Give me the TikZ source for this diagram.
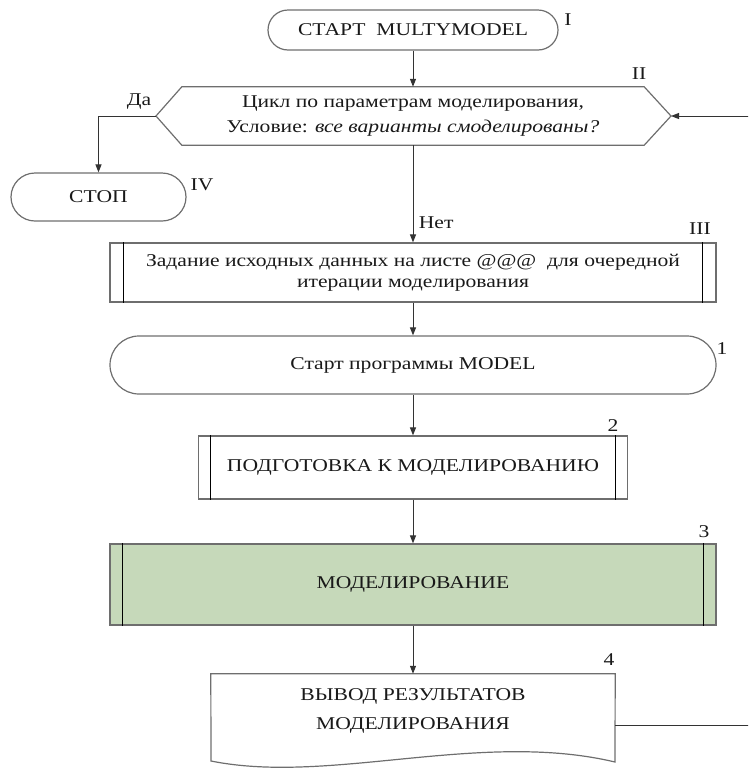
\documentclass[tikz,border=0pt]{standalone}
\usepackage{fontspec}
\setmainfont{Liberation Serif}[FakeStretch=1.2]
\usetikzlibrary{arrows.meta}

\definecolor{edge}{HTML}{6E6E6E}
\definecolor{modfill}{HTML}{C6D9BA}

\begin{document}
\begin{tikzpicture}[x=1pt, y=-1pt,
        every node/.style={font=\fontsize{18}{25}\selectfont, text=black!90},
        term/.style={draw=edge, line width=1.2pt, rounded corners=#1, minimum height=2*#1},
        proc/.style={draw=edge, line width=1.2pt},
        bar/.style={black, line width=0.9pt},
        arr/.style={draw=black!80, line width=1pt, -{Triangle[length=8pt,width=6pt]}},
        num/.style={inner sep=0pt}]
        \clip (0,0) rectangle (748,769);

        \node[term=20pt, minimum width=290] (start) at (413,30) {СТАРТ\ \ MULTYMODEL};
        \node[num] (startNo) at (568,20) {I};

        \node[minimum width=462, minimum height=58, align=center, inner sep=0pt] (loop) at (413,116)
            {Цикл по параметрам моделирования,\\Условие: \textit{все варианты смоделированы?}};
        \coordinate (loopL) at (156,116);
        \coordinate (loopR) at (671,116);
        \draw[proc] (loopL) -- (loop.north west) -- (loop.north east) -- (loopR)
            -- (loop.south east) -- (loop.south west) -- cycle;
        \node[num] (loopNo) at (639,74) {II};
        \draw[arr] (start) -- (loop.north);

        \node[term=24pt, minimum width=175] (stop) at (98.5,197) {СТОП};
        \node[num] (stopNo) at (202,185) {IV};
        \node[num] (yes) at (139,102) {Да};
        \draw[arr] (loopL) -| (stop);

        \node[proc, minimum width=606, minimum height=59, align=center, inner sep=0pt,
            font=\fontsize{18}{21}\selectfont] (init) at (413,272.5)
            {Задание исходных данных на листе @@@\ \ для очередной\\итерации моделирования};
        \node[num] (initNo) at (700,229) {III};
        \draw[arr] (loop.south) -- (init) node[pos=0.8, right, xshift=2pt] (no) {Нет};

        \node[term=29pt, minimum width=606] (prog) at (413,365) {Старт программы MODEL};
        \node[num] (progNo) at (722,349) {1};
        \draw[arr] (init) -- (prog);

        \node[proc, minimum width=429, minimum height=63] (prep) at (413,467.5) {ПОДГОТОВКА К МОДЕЛИРОВАНИЮ};
        \node[num] (prepNo) at (613,426) {2};
        \draw[arr] (prog) -- (prep);

        \node[proc, fill=modfill, minimum width=606, minimum height=81] (model) at (413,584.5) {МОДЕЛИРОВАНИЕ};
        \node[num] (modelNo) at (704,532) {3};
        \draw[arr] (prep) -- (model);

        \foreach \n/\g in {init/14pt, prep/13pt, model/13pt} {
            \draw[bar] ([xshift=\g]\n.north west) -- ([xshift=\g]\n.south west);
            \draw[bar] ([xshift=-\g]\n.north east) -- ([xshift=-\g]\n.south east);
        }

        \node[minimum width=404, minimum height=74, align=center, inner sep=0pt,
            font=\fontsize{18}{29}\selectfont] (out) at (413,711) {ВЫВОД РЕЗУЛЬТАТОВ\\МОДЕЛИРОВАНИЯ};
        \coordinate (outSE) at (615,762);
        \coordinate (outSW) at (211,761);
        \draw[proc] (out.north west) -- (out.north east) -- (outSE)
            .. controls (480,730) and (330,785) .. (outSW) -- cycle;
        \node[num] (outNo) at (609,660) {4};
        \draw[arr] (model) -- (out);

        % return line to the loop header
        \coordinate (outR) at (615,725);
        \coordinate (backB) at (760,725);
        \coordinate (backT) at (760,116);
        \draw[arr] (outR) -- (backB) -- (backT) -- (loopR);
    \end{tikzpicture}
\end{document}
